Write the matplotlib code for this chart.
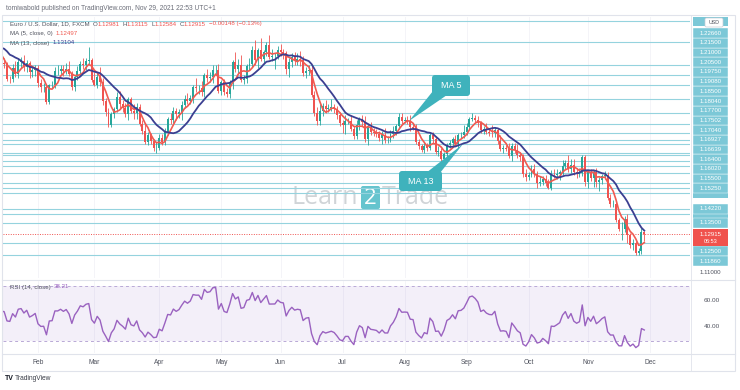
import matplotlib
matplotlib.use("Agg")
import matplotlib.pyplot as plt
from matplotlib.patches import FancyBboxPatch, Polygon, Rectangle
import numpy as np
import pandas as pd

# December 2020 closes, only used to warm up the MA and RSI
warm_close = [1.2070, 1.2114, 1.2145, 1.2121, 1.2106, 1.2101, 1.2079, 1.2136, 1.2110,
              1.2145, 1.2154, 1.2197, 1.2264, 1.2255, 1.2240, 1.2165, 1.2183, 1.2186,
              1.2187, 1.2213, 1.2250, 1.2297, 1.2216]

# daily closes Jan..Nov 2021 (EUR/USD, FXCM)
jan_close = [1.2214, 1.2249, 1.2297, 1.2326, 1.2271, 1.2218, 1.2153, 1.2207, 1.2160, 1.2155, 1.2081,
             1.2077, 1.2132, 1.2106, 1.2166, 1.2171, 1.2140, 1.2160, 1.2112, 1.2122, 1.2136]
feb_close = [1.2060, 1.2038, 1.2039, 1.1963, 1.2047, 1.2049, 1.2119, 1.2119, 1.2131, 1.2118,
             1.2130, 1.2104, 1.2039, 1.2091, 1.2118, 1.2156, 1.2150, 1.2168, 1.2173, 1.2075]
mar_close = [1.2048, 1.2090, 1.2063, 1.1967, 1.1914, 1.1847, 1.1900, 1.1926, 1.1986, 1.1952, 1.1930,
             1.1901, 1.1978, 1.1915, 1.1904, 1.1939, 1.1849, 1.1815, 1.1762, 1.1794, 1.1765, 1.1727, 1.1730]
apr_close = [1.1778, 1.1762, 1.1812, 1.1874, 1.1870, 1.1915, 1.1899, 1.1912, 1.1946, 1.1978, 1.1966,
             1.1983, 1.2037, 1.2034, 1.2034, 1.2015, 1.2097, 1.2083, 1.2089, 1.2124, 1.2126, 1.2020]
may_close = [1.2061, 1.2012, 1.2005, 1.2066, 1.2163, 1.2130, 1.2150, 1.2075, 1.2081, 1.2145, 1.2153,
             1.2224, 1.2173, 1.2226, 1.2178, 1.2213, 1.2250, 1.2192, 1.2193, 1.2193, 1.2227]
jun_close = [1.2213, 1.2210, 1.2127, 1.2166, 1.2190, 1.2172, 1.2178, 1.2175, 1.2107, 1.2121, 1.2124,
             1.1999, 1.1907, 1.1864, 1.1916, 1.1941, 1.1926, 1.1931, 1.1936, 1.1925, 1.1895, 1.1857]
jul_close = [1.1847, 1.1866, 1.1866, 1.1824, 1.1790, 1.1844, 1.1876, 1.1862, 1.1775, 1.1836, 1.1810,
             1.1806, 1.1801, 1.1780, 1.1794, 1.1771, 1.1771, 1.1801, 1.1817, 1.1843, 1.1887, 1.1868]
aug_close = [1.1869, 1.1868, 1.1835, 1.1833, 1.1761, 1.1737, 1.1718, 1.1738, 1.1730, 1.1796, 1.1776,
             1.1711, 1.1712, 1.1674, 1.1700, 1.1745, 1.1754, 1.1774, 1.1752, 1.1794, 1.1796, 1.1808]
sep_close = [1.1838, 1.1874, 1.1880, 1.1871, 1.1857, 1.1818, 1.1825, 1.1812, 1.1806, 1.1805, 1.1818,
             1.1765, 1.1726, 1.1727, 1.1724, 1.1688, 1.1739, 1.1719, 1.1695, 1.1683, 1.1597, 1.1580]
oct_close = [1.1595, 1.1621, 1.1597, 1.1554, 1.1557, 1.1570, 1.1553, 1.1529, 1.1595, 1.1593, 1.1600,
             1.1608, 1.1639, 1.1655, 1.1624, 1.1645, 1.1608, 1.1597, 1.1603, 1.1682, 1.1558]
nov_close = [1.1607, 1.1579, 1.1610, 1.1555, 1.1568, 1.1585, 1.1595, 1.1478, 1.1445, 1.1445, 1.1367,
             1.1319, 1.1319, 1.1370, 1.1289, 1.1238, 1.1249, 1.1198, 1.1209, 1.1306, 1.12915]

# wicks above / below the candle body, in pips
up_wick = [10, 60, 10, 23, 35, 30, 25, 15, 30, 25, 10, 15, 25, 40, 20, 20, 30, 15, 10, 20, 15,
           15, 20, 20, 10, 5, 20, 20, 30, 20, 20, 30, 40, 15, 10, 25, 15, 30, 15, 70, 10,
           40, 20, 50, 20, 15, 20, 10, 10, 25, 30, 20, 25, 10, 12, 35, 20, 15, 20, 35, 15, 10, 10, 30,
           20, 20, 20, 10, 30, 20, 15, 15, 20, 20, 30, 15, 10, 45, 15, 35, 10, 30, 25, 25, 25, 30,
           15, 20, 20, 10, 10, 50, 30, 50, 20, 10, 30, 20, 50, 10, 60, 10, 16, 50, 40, 15, 20,
           27, 20, 10, 20, 20, 25, 30, 40, 20, 20, 25, 20, 20, 30, 35, 15, 30, 20, 40, 15, 15, 15,
           15, 30, 15, 30, 15, 25, 10, 20, 30, 15, 25, 20, 20, 15, 20, 36, 20, 20, 25, 10, 20, 22,
           15, 20, 30, 15, 20, 15, 15, 15, 15, 10, 15, 15, 25, 15, 10, 10, 15, 10, 20, 10, 15, 40,
           20, 10, 29, 15, 20, 10, 15, 30, 20, 40, 20, 15, 30, 15, 20, 30, 15, 15, 30, 15, 15, 25,
           15, 20, 25, 15, 30, 20, 25, 20, 25, 30, 25, 10, 30, 15, 40, 30, 30, 20, 25, 10, 10,
           10, 15, 6, 20, 15, 15, 20, 15, 20, 20, 15, 10, 35, 15, 25, 10, 20, 10, 15, 20, 5]
dn_wick = [10, 30, 40, 31, 20, 25, 20, 30, 10, 20, 10, 20, 15, 15, 20, 30, 20, 25, 30, 25, 30,
           20, 25, 25, 11, 10, 15, 15, 20, 15, 25, 15, 10, 15, 20, 15, 25, 20, 25, 15, 13,
           5, 15, 20, 20, 25, 11, 12, 20, 15, 20, 20, 15, 30, 10, 30, 30, 10, 15, 10, 20, 15, 15, 23,
           10, 15, 20, 15, 20, 15, 30, 20, 40, 15, 15, 15, 25, 20, 30, 20, 25, 20, 20, 30, 20, 10,
           20, 15, 15, 25, 40, 15, 20, 10, 20, 25, 20, 15, 25, 40, 10, 20, 20, 10, 20, 65, 15,
           20, 30, 25, 40, 25, 20, 20, 30, 15, 25, 20, 14, 15, 17, 20, 25, 20, 15, 15, 20, 20, 15,
           40, 45, 15, 10, 15, 15, 25, 20, 15, 30, 15, 15, 15, 15, 28, 15, 15, 10, 20, 20, 15, 15,
           10, 15, 20, 15, 10, 15, 10, 12, 15, 10, 20, 10, 20, 15, 10, 20, 15, 20, 15, 25, 15, 15,
           15, 15, 10, 10, 20, 15, 20, 10, 15, 20, 20, 15, 10, 20, 10, 10, 25, 15, 15, 20, 15, 17,
           15, 15, 15, 25, 15, 15, 15, 5, 10, 15, 20, 35, 15, 15, 15, 20, 15, 20, 15, 15, 23,
           30, 15, 45, 25, 45, 20, 15, 10, 15, 12, 10, 10, 55, 15, 39, 15, 25, 12, 10, 15, 33]

# horizontal levels drawn by the author; the top one and the two "hidden" ones
# have their price tags covered on the scale
levels = [1.2266, 1.2150, 1.2100, 1.2050, 1.1975, 1.1908, 1.1850, 1.1804, 1.1770,
          1.17502, 1.1704, 1.16927, 1.16639, 1.1640, 1.1602, 1.1550, 1.1525, 1.1422,
          1.1350, 1.1250, 1.1186]
covered_top = 1.2370
hidden_levels = [1.1500, 1.1395]
last_price = 1.12915
month_names = ["Feb", "Mar", "Apr", "May", "Jun", "Jul", "Aug", "Sep", "Oct", "Nov", "Dec"]
rsi_shown = "38.21"

# ---------------------------------------------------------------------------
W, H = 740, 390
UP, DOWN = "#26a69a", "#ef5350"
LINE = "#95d3de"
BOX = "#7cc8d7"
GRAY = "#50535e"
plt.rcParams["font.family"] = ["Liberation Sans", "DejaVu Sans"]

months = [jan_close, feb_close, mar_close, apr_close, may_close, jun_close,
          jul_close, aug_close, sep_close, oct_close, nov_close]
close = np.array(sum(months, []))
all_close = pd.Series(warm_close + list(close))
dates = pd.bdate_range("2020-12-01", "2021-11-29")
assert len(dates) == len(all_close)
assert len(up_wick) == len(close) == len(dn_wick)

ma5 = all_close.rolling(5).mean().values
ma13 = all_close.rolling(13).mean().values
d = all_close.diff()
gain = d.clip(lower=0).ewm(alpha=1 / 14, adjust=False).mean()
loss = (-d.clip(upper=0)).ewm(alpha=1 / 14, adjust=False).mean()
rsi = (100 - 100 / (1 + gain / loss)).values

pos = np.arange(len(all_close))
n0 = len(warm_close)
xc = pos[n0:]
opn = np.r_[warm_close[-1], close[:-1]]
top = np.maximum(opn, close) + np.array(up_wick) / 1e4
bot = np.minimum(opn, close) - np.array(dn_wick) / 1e4
cols = np.where(close >= opn, UP, DOWN)

ext = pd.bdate_range("2020-12-01", "2021-12-01")
mstart = [i for i in range(1, len(ext)) if ext[i].month != ext[i - 1].month]
mstart = [i for i in mstart if ext[i] >= pd.Timestamp("2021-02-01")]
feb_pos = mstart[0]

# pixel layout of the snapshot
px_bar = 2.82
x_left, x_right = 3, 690
xlim = (feb_pos + (x_left - 38) / px_bar, feb_pos + (x_right - 38) / px_bar)
p_top, p_bot = 17, 278
ylim = (1.2266 - (p_bot - 42) / 1975, 1.2266 + (42 - p_top) / 1975)


def ypix(v):
    return p_top + (ylim[1] - v) / (ylim[1] - ylim[0]) * (p_bot - p_top)


fig = plt.figure(figsize=(W / 100, H / 100), dpi=100)
bg = fig.add_axes([0, 0, 1, 1], zorder=0)
bg.set_xlim(0, W)
bg.set_ylim(H, 0)
bg.axis("off")

ax = fig.add_axes([x_left / W, 1 - p_bot / H, (x_right - x_left) / W, (p_bot - p_top) / H], zorder=1)
ar = fig.add_axes([x_left / W, 1 - 353 / H, (x_right - x_left) / W, (353 - 281) / H], zorder=1)
for a in (ax, ar):
    a.set_facecolor("none")
    a.set_xlim(*xlim)
    for s in a.spines.values():
        s.set_visible(False)
    a.set_yticks([])
    for m in mstart:
        a.axvline(m, color="#f2f3f7", lw=0.6, zorder=0)

ov = fig.add_axes([0, 0, 1, 1], zorder=3)
ov.set_xlim(0, W)
ov.set_ylim(H, 0)
ov.axis("off")

# frame and separators
bg.add_patch(Rectangle((2, 15), 733, 356, fill=False, ec="#e0e3eb", lw=0.8))
bg.plot([2, 735], [279.5, 279.5], color="#e0e3eb", lw=0.8)
bg.plot([2, 735], [353.5, 353.5], color="#e0e3eb", lw=0.8)
bg.plot([691, 691], [15, 371], color="#e0e3eb", lw=0.6)

# watermark
bg.text(358, 198, "Learn", fontsize=18, color="#c5cace", ha="right", va="center",
        family="Open Sans", alpha=0.8)
bg.add_patch(FancyBboxPatch((361, 186), 19, 23, boxstyle="round,pad=0,rounding_size=2",
                            fc="#3fb6c2", ec="none", alpha=0.8))
bg.text(370.5, 198, "2", fontsize=16, color="white", ha="center", va="center", family="Open Sans")
bg.text(382, 198, "Trade", fontsize=18, color="#c5cace", ha="left", va="center",
        family="Open Sans", alpha=0.8)

# price panel
ax.set_ylim(*ylim)
ax.set_xticks([])
for v in levels + hidden_levels + [covered_top]:
    ax.axhline(v, color=LINE, lw=0.8, zorder=1)
ax.axhline(last_price, color=DOWN, lw=0.7, ls=(0, (1, 1.5)), zorder=1)
ax.vlines(xc, bot, top, colors=cols, lw=0.6, zorder=2)
ax.bar(xc, np.maximum(np.abs(close - opn), 0.00006), bottom=np.minimum(opn, close),
       width=0.7, color=cols, lw=0, zorder=3)
ax.plot(pos, ma5, color="#f05a50", lw=1.2, zorder=4)
ax.plot(pos, ma13, color="#3b3f91", lw=1.3, zorder=4)

# RSI panel
ar.set_ylim(21.4, 73.6)
ar.axhspan(30, 70, color="#7e57c2", alpha=0.09, lw=0)
for lv in (70, 30):
    ar.axhline(lv, color="#b9a9d6", lw=0.7, ls=(0, (3, 3)))
ar.plot(pos, rsi, color="#9a62c0", lw=1.0)
ar.set_xticks(mstart)
ar.set_xticklabels(month_names)
ar.tick_params(axis="x", length=0, pad=4.5, labelsize=4.8, labelcolor=GRAY)

# price scale tags, stacked outward from the last price so they do not overlap
bh = 9.7
cur_y = ypix(last_price)
red_top, red_bot = cur_y - 5, cur_y + 12
for v in hidden_levels:
    yy = ypix(v)
    ov.add_patch(Rectangle((693, yy - bh / 2), 35, bh, fc=BOX, ec="none"))
lab_y = {}
edge = red_top
for v in sorted([l for l in levels if l > last_price]):
    yy = min(ypix(v), edge - bh / 2)
    lab_y[v] = yy
    edge = yy - bh / 2
ov.add_patch(Rectangle((693, min(ypix(covered_top), edge - bh / 2) - bh / 2), 35, bh, fc=BOX, ec="none"))
edge = red_bot
for v in sorted([l for l in levels if l < last_price], reverse=True):
    yy = max(ypix(v), edge + bh / 2)
    lab_y[v] = yy
    edge = yy + bh / 2
for v, yy in lab_y.items():
    ov.add_patch(Rectangle((693, yy - bh / 2), 35, bh, fc=BOX, ec="white", lw=0.3))
    ov.text(710.5, yy, f"{v:.5f}", fontsize=4.4, color="white", ha="center", va="center")
ov.add_patch(Rectangle((693, red_top), 35, red_bot - red_top, fc="#f0524d", ec="none"))
ov.text(710.5, cur_y, f"{last_price:.5f}", fontsize=4.4, color="white", ha="center", va="center")
ov.text(710.5, cur_y + 7.5, "06:53", fontsize=4.0, color="white", ha="center", va="center")
ov.text(710.5, ypix(1.11), "1.11000", fontsize=4.4, color=GRAY, ha="center", va="center")
ov.add_patch(FancyBboxPatch((705, 18), 18, 9, boxstyle="round,pad=0,rounding_size=1.5",
                            fc="white", ec="#c9ccd6", lw=0.5))
ov.text(714, 22.5, "USD", fontsize=3.8, color=GRAY, ha="center", va="center")
for val, yy in (("60.00", 300), ("40.00", 327)):
    ov.text(712, yy, val, fontsize=4.6, color=GRAY, ha="center", va="center")

# legend rows
rend = fig.canvas.get_renderer()


def put_row(x, y, pieces, size=4.4):
    for txt, col, gap in pieces:
        t = ov.text(x, y, txt, fontsize=size, color=col, ha="left", va="center")
        x += t.get_window_extent(rend).width + gap


ov.text(6, 8, "tomiwabold published on TradingView.com, Nov 29, 2021 22:53 UTC+1",
        fontsize=4.8, color="#6a6d78", ha="left", va="center")
put_row(10, 24, [("Euro / U.S. Dollar, 1D, FXCM", GRAY, 3), ("O", GRAY, 0.3), ("1.12981", DOWN, 2.5),
                 ("H", GRAY, 0.3), ("1.13115", DOWN, 2.5), ("L", GRAY, 0.3), ("1.12584", DOWN, 2.5),
                 ("C", GRAY, 0.3), ("1.12915", DOWN, 2.5), ("\u22120.00148 (\u22120.13%)", DOWN, 0)])
put_row(10, 33.5, [("MA (5, close, 0)", GRAY, 3), ("1.12497", "#f05a50", 0)])
put_row(10, 43, [("MA (13, close)", GRAY, 3), ("1.13104", "#3b3f91", 0)])
put_row(10, 287, [("RSI (14, close)", GRAY, 3), (rsi_shown, "#9a62c0", 0)])

# callouts
CALL = "#3fb2bc"
ov.add_patch(Polygon([(433, 91), (447, 95), (409, 121)], closed=True, fc=CALL, ec="none"))
ov.add_patch(FancyBboxPatch((432, 75), 38, 21, boxstyle="round,pad=0,rounding_size=3", fc=CALL, ec="none"))
ov.text(451, 85.5, "MA 5", fontsize=6.5, color="white", ha="center", va="center")
ov.add_patch(Polygon([(426, 173), (440, 173), (463, 144)], closed=True, fc=CALL, ec="none"))
ov.add_patch(FancyBboxPatch((399, 171), 43, 20, boxstyle="round,pad=0,rounding_size=3", fc=CALL, ec="none"))
ov.text(420.5, 181, "MA 13", fontsize=6.5, color="white", ha="center", va="center")

# TradingView footer
ov.text(5, 378, "TV", fontsize=5, color="#131722", ha="left", va="center", weight="bold")
ov.text(15, 378, "TradingView", fontsize=4.8, color="#3a3d47", ha="left", va="center")

fig.savefig("out.png", dpi=100)
